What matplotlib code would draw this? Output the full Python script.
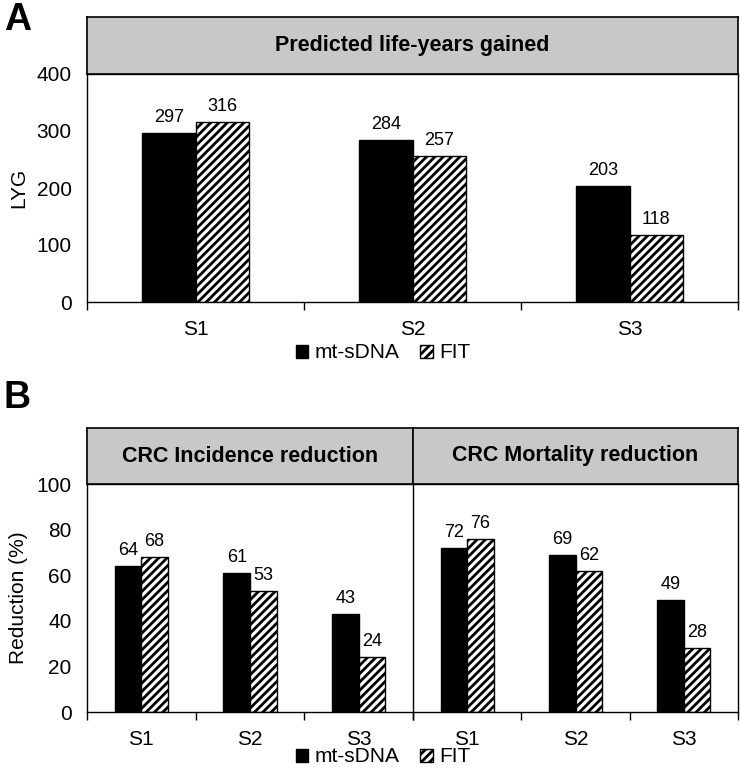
import matplotlib
matplotlib.use('Agg')
from matplotlib import pyplot as plt
from matplotlib.patches import Patch
import numpy as np

plt.rcParams['font.family'] = ['Liberation Sans', 'DejaVu Sans']
plt.rcParams['hatch.linewidth'] = 2.0

strategies = ['S1', 'S2', 'S3']
series = ['mt-sDNA', 'FIT']

lyg_mt = [297, 284, 203]
lyg_fit = [316, 257, 118]

inc_mt = [64, 61, 43]
inc_fit = [68, 53, 24]

mort_mt = [72, 69, 49]
mort_fit = [76, 62, 28]

W, H = 740, 769
fig = plt.figure(figsize=(W / 100, H / 100), dpi=100)


def box(l, t, r, b):
    # pixel box -> figure fraction rect
    return [l / W, 1 - b / H, (r - l) / W, (b - t) / H]


def header(rect, text):
    ax = fig.add_axes(rect)
    ax.set_facecolor('#c8c8c8')
    ax.set_xticks([])
    ax.set_yticks([])
    for s in ax.spines.values():
        s.set_linewidth(1.2)
    ax.text(0.5, 0.5, text, ha='center', va='center', fontsize=15.5,
            fontweight='bold', transform=ax.transAxes)
    return ax


def bars(ax, mt, fit, ymax, step, fs):
    x = np.arange(len(strategies))
    w = 0.245
    ax.bar(x - w / 2, mt, w, color='black', edgecolor='black', linewidth=1)
    ax.bar(x + w / 2, fit, w, color='white', edgecolor='black', linewidth=1,
           hatch='////')
    off = ymax * 0.03
    for xi, v in zip(x - w / 2, mt):
        ax.text(xi, v + off, str(v), ha='center', va='bottom', fontsize=fs)
    for xi, v in zip(x + w / 2, fit):
        ax.text(xi, v + off, str(v), ha='center', va='bottom', fontsize=fs)
    ax.set_xlim(-0.5, len(strategies) - 0.5)
    ax.set_ylim(0, ymax)
    ax.set_yticks(np.arange(0, ymax + 1, step))
    ax.set_xticks(x)
    ax.set_xticklabels(strategies)
    ax.set_xticks(np.arange(-0.5, len(strategies), 1), minor=True)
    ax.tick_params(axis='x', which='major', length=0, labelsize=15, pad=13)
    ax.tick_params(axis='x', which='minor', length=6, direction='out', width=1)
    ax.tick_params(axis='y', length=0, labelsize=15, pad=11)
    for s in ax.spines.values():
        s.set_linewidth(1.0)


# Panel A
axA = fig.add_axes(box(87, 74, 738, 302))
bars(axA, lyg_mt, lyg_fit, 400, 100, 13)
axA.set_ylabel('LYG', fontsize=15, labelpad=6)
header(box(87, 17, 738, 74), 'Predicted life-years gained')
fig.text(4 / W, 1 - 20 / H, 'A', fontsize=27, fontweight='bold', va='center')

# Panel B
axB1 = fig.add_axes(box(87, 484, 413, 712))
bars(axB1, inc_mt, inc_fit, 100, 20, 13)
axB1.set_ylabel('Reduction (%)', fontsize=15, labelpad=6)
axB2 = fig.add_axes(box(413, 484, 738, 712))
axB2.set_facecolor('none')
bars(axB2, mort_mt, mort_fit, 100, 20, 13)
axB2.tick_params(axis='y', labelleft=False)
axB2.spines['left'].set_visible(False)
header(box(87, 428, 413, 484), 'CRC Incidence reduction')
header(box(413, 428, 738, 484), 'CRC Mortality reduction')
fig.text(4 / W, 1 - 398 / H, 'B', fontsize=27, fontweight='bold', va='center')

# legends
handles = [Patch(facecolor='black', edgecolor='black'),
           Patch(facecolor='white', edgecolor='black', hatch='////')]
for y in (353, 757):
    fig.legend(handles, series, loc='center', bbox_to_anchor=(383 / W, 1 - y / H),
               ncol=2, frameon=False, fontsize=15, handlelength=0.6,
               handleheight=0.6, handletextpad=0.3, columnspacing=1.0,
               borderpad=0, borderaxespad=0)

fig.savefig('out.png', dpi=100)
